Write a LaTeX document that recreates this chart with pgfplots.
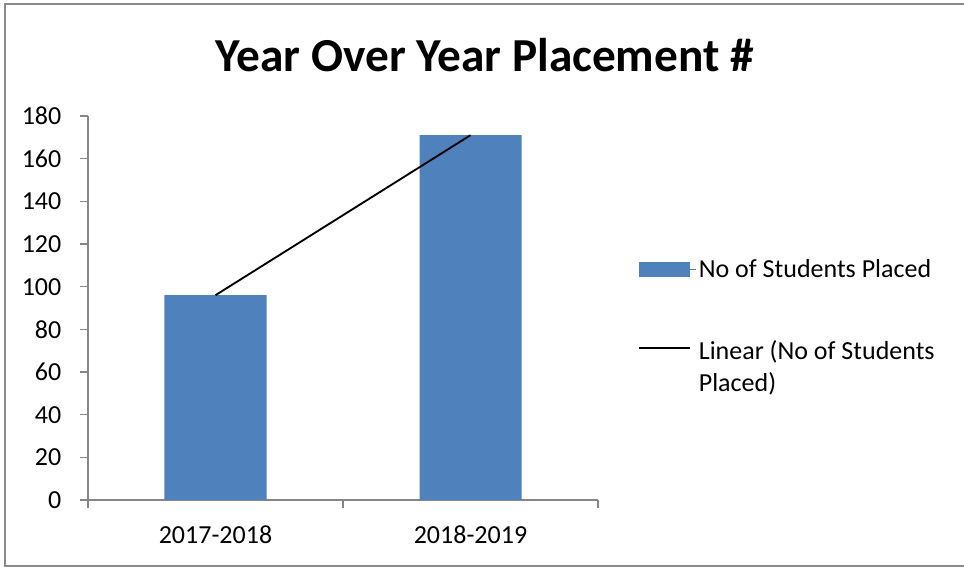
\documentclass[border=0pt]{standalone}
\usepackage{pgfplots}
\pgfplotsset{compat=1.18}
\usepackage{fontspec}
\setmainfont{Carlito}
\definecolor{barblue}{HTML}{4F81BD}
\definecolor{axgray}{HTML}{868686}
\definecolor{framegray}{HTML}{8A8A8A}
\begin{document}
\begin{tikzpicture}
\useasboundingbox (0pt,0pt) rectangle (723pt,425.25pt);
\path[fill=white] (0pt,0pt) rectangle (723pt,425.25pt);
\draw[framegray,line width=1.5pt] (723pt,422.25pt) -- (3.375pt,422.25pt) -- (3.375pt,0.75pt) -- (723pt,0.75pt);
\node[anchor=base,font=\fontsize{35.5}{40}\selectfont\bfseries,inner sep=0pt] at (363.75pt,371.25pt) {Year Over Year Placement \#};
\begin{axis}[
  at={(66pt,50.25pt)}, anchor=south west,
  width=382.5pt, height=288pt, scale only axis,
  xmin=-0.5, xmax=1.5, ymin=0, ymax=180,
  axis x line*=bottom, axis y line*=left,
  axis line style={axgray,line width=1.3pt},
  ytick={0,20,...,180},
  xtick={-0.5,0.5,1.5}, xticklabels={},
  extra x ticks={0,1}, extra x tick labels={2017-2018,2018-2019},
  extra x tick style={major tick length=0pt},
  tick align=outside,
  major tick length=6pt,
  tick style={axgray,line width=1.1pt},
  ticklabel style={font=\fontsize{19.5}{23.5}\selectfont},
  yticklabel style={xshift=-10.5pt},
  xticklabel style={yshift=-15.5pt},
  /pgf/number format/assume math mode=true,
  legend style={at={(1.07,0.641)},anchor=north west,draw=none,fill=none,
    font=\fontsize{19.5}{23.5}\selectfont,row sep=42pt,
    cells={align=left}},
  legend cell align=left,
]
\addplot[ybar,bar width=76.5pt,fill=barblue,draw=none,
  legend image code/.code={\fill[barblue] (0pt,-5.6pt) rectangle (38pt,5.6pt);
    \path[draw=none] (0pt,0pt) rectangle (43pt,0.1pt);}]
  coordinates {(0,96) (1,171)};
\addlegendentry{No of Students Placed}
\addplot[black,line width=1.4pt,
  legend image code/.code={\draw[black,line width=1.3pt] (0pt,14pt) -- (38pt,14pt);
    \path[draw=none] (0pt,14pt) rectangle (43pt,14.1pt);}]
  coordinates {(0,96) (1,171)};
\addlegendentry{Linear (No of Students\\Placed)}
\end{axis}
\end{tikzpicture}
\end{document}
